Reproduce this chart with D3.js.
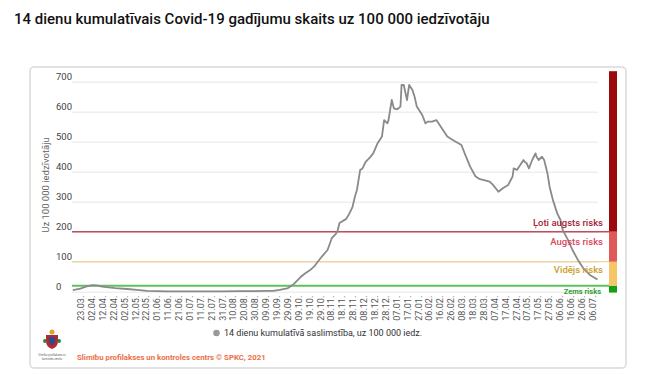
<!DOCTYPE html>
<html><head><meta charset="utf-8">
<script src="https://cdn.jsdelivr.net/npm/d3@7"></script>
<style>
html,body{margin:0;padding:0;background:#fff;}
svg{display:block;font-family:Roboto, "Noto Sans", sans-serif;}
</style></head>
<body><svg id="chart" width="659" height="392"></svg>
<script>
// ---- data ----
const dates = ["2020-03-16","2020-03-23","2020-03-28","2020-04-03","2020-04-07","2020-04-12","2020-04-16","2020-04-24","2020-05-05","2020-05-14","2020-05-23","2020-06-01","2020-06-11","2020-06-22","2020-07-11","2020-07-29","2020-08-17","2020-08-30","2020-09-09","2020-09-16","2020-09-22","2020-09-29","2020-10-04","2020-10-11","2020-10-15","2020-10-20","2020-10-24","2020-10-27","2020-10-31","2020-11-05","2020-11-09","2020-11-12","2020-11-14","2020-11-16","2020-11-19","2020-11-22","2020-11-25","2020-11-28","2020-11-30","2020-12-02","2020-12-05","2020-12-07","2020-12-10","2020-12-14","2020-12-17","2020-12-21","2020-12-25","2020-12-27","2020-12-30","2020-12-31","2021-01-03","2021-01-05","2021-01-08","2021-01-11","2021-01-12","2021-01-14","2021-01-17","2021-01-19","2021-01-22","2021-01-24","2021-01-26","2021-01-31","2021-02-03","2021-02-05","2021-02-09","2021-02-13","2021-02-16","2021-02-23","2021-02-28","2021-03-08","2021-03-11","2021-03-16","2021-03-21","2021-03-25","2021-04-03","2021-04-06","2021-04-11","2021-04-15","2021-04-20","2021-04-24","2021-04-25","2021-04-28","2021-05-01","2021-05-04","2021-05-05","2021-05-07","2021-05-09","2021-05-12","2021-05-15","2021-05-16","2021-05-18","2021-05-21","2021-05-23","2021-05-26","2021-05-28","2021-05-31","2021-06-04","2021-06-07","2021-06-09","2021-06-14","2021-06-18","2021-06-23","2021-06-28","2021-07-04","2021-07-11"];
const values = [5,10,17,22,21,17,15,12,9,6,3,2,1,1,1,1,2,2,3,3,6,11,22,48,60,72,85,100,118,139,179,190,200,229,236,242,260,283,315,339,406,410,433,448,461,495,517,572,561,572,639,611,608,617,689,689,639,689,672,650,617,589,561,567,567,572,556,517,506,489,461,417,384,375,367,356,333,345,356,384,411,406,422,439,433,428,411,439,461,450,439,450,439,395,350,306,261,239,206,172,139,106,78,56,41];
const xTickDates = ["2020-03-23","2020-04-02","2020-04-12","2020-04-22","2020-05-02","2020-05-12","2020-05-22","2020-06-01","2020-06-11","2020-06-21","2020-07-01","2020-07-11","2020-07-21","2020-07-31","2020-08-10","2020-08-20","2020-08-30","2020-09-09","2020-09-19","2020-09-29","2020-10-09","2020-10-19","2020-10-29","2020-11-08","2020-11-18","2020-11-28","2020-12-08","2020-12-18","2020-12-28","2021-01-07","2021-01-17","2021-01-27","2021-02-06","2021-02-16","2021-02-26","2021-03-08","2021-03-18","2021-03-28","2021-04-07","2021-04-17","2021-04-27","2021-05-07","2021-05-17","2021-05-27","2021-06-06","2021-06-16","2021-06-26","2021-07-06"];
const yTicks = [0,100,200,300,400,500,600,700];
const riskThresholds = [20,100,200];
const riskLabels = ["Zems risks","Vidējs risks","Augsts risks","Ļoti augsts risks"];
const title = "14 dienu kumulatīvais Covid-19 gadījumu skaits uz 100 000 iedzīvotāju";
const yTitle = "Uz 100 000 iedzīvotāju";
const legendLabel = "14 dienu kumulatīvā saslimstība, uz 100 000 iedz.";
const credit = "Slimību profilakses un kontroles centrs © SPKC, 2021";

// ---- drawing ----
const parse = d3.utcParse("%Y-%m-%d");
const fmt = d3.utcFormat("%d.%m.");
const data = dates.map((d,i)=>({date:parse(d), v:values[i]}));
const svg = d3.select("#chart");

const plotL = 72, plotR = 598;
const x = d3.scaleUtc().domain([parse(dates[0]), parse(dates[dates.length-1])]).range([72.8, 597.5]);
const y = d3.scaleLinear().domain([0,700]).range([291.7, 81.7]);
const yMax = 735;

// title
svg.append("text").attr("x",14).attr("y",24).attr("font-size",15).attr("fill","#111")
  .attr("font-weight",500).text(title);

// card
svg.append("rect").attr("x",30).attr("y",67).attr("width",596).attr("height",301)
  .attr("rx",4).attr("fill","#fff").attr("stroke","#e2e2e2").attr("stroke-width",2);

// gridlines + y labels via axis
const gy = svg.append("g").attr("transform",`translate(${plotL},0)`)
  .call(d3.axisLeft(y).tickValues(yTicks).tickSize(-(plotR-plotL)).tickFormat(d3.format("d")));
gy.select(".domain").remove();
gy.selectAll(".tick line").attr("stroke","#e6e6e6");
gy.selectAll(".tick text").attr("text-anchor","start").attr("x",-16).attr("dy",-2.5)
  .attr("font-size",9.5).attr("fill","#444").attr("font-family","Roboto, sans-serif");

// y title
svg.append("text").attr("transform",`translate(49,185) rotate(-90)`).attr("text-anchor","middle")
  .attr("font-size",9.5).attr("fill","#666").text(yTitle);

// x axis labels
const gx = svg.append("g").attr("transform",`translate(0,${y(0)})`)
  .call(d3.axisBottom(x).tickValues(xTickDates.map(parse)).tickFormat(fmt).tickSize(0));
gx.select(".domain").remove();
gx.selectAll(".tick text").attr("transform","rotate(-90)").attr("text-anchor","end")
  .attr("x",-4).attr("y",0).attr("dy","0.35em").attr("font-size",9).attr("fill","#555")
  .attr("font-family","Roboto, sans-serif");

// colored risk bar
const bandColors = ["#14a014","#f6c565","#e05858","#9c0a0e"];
const bounds = [-3].concat(riskThresholds).concat([yMax]);
svg.append("g").selectAll("rect").data(bandColors).join("rect")
  .attr("x",609).attr("width",8)
  .attr("y",(c,i)=>y(bounds[i+1])).attr("height",(c,i)=>y(bounds[i])-y(bounds[i+1]))
  .attr("fill",c=>c);

// threshold lines
const lineColors = ["#5cc25c","#f2d59c","#c24c5e"];
const lineWidths = [2,1.3,1.5];
svg.append("g").selectAll("line").data(riskThresholds).join("line")
  .attr("x1",plotL).attr("x2",609).attr("y1",d=>y(d)).attr("y2",d=>y(d))
  .attr("stroke",(d,i)=>lineColors[i]).attr("stroke-width",(d,i)=>lineWidths[i]);

// data line
svg.append("path").datum(data)
  .attr("d",d3.line().x(d=>x(d.date)).y(d=>y(d.v)))
  .attr("fill","none").attr("stroke","#8a8a8a").attr("stroke-width",1.8).attr("stroke-linejoin","round");

// risk labels
const labColors = ["#2e9d2e","#c9a02e","#d9475a","#a3233a"];
const labY = [294, 272.5, 245, 226];
const labSize = [7.5,9.5,9.5,9.5];
svg.append("g").selectAll("text").data(riskLabels).join("text")
  .attr("x",(d,i)=> i===0?601:603).attr("y",(d,i)=>labY[i]).attr("text-anchor","end")
  .attr("font-size",(d,i)=>labSize[i]).attr("font-weight",(d,i)=>i===0?700:500)
  .attr("fill",(d,i)=>labColors[i]).text(d=>d);

// legend
svg.append("circle").attr("cx",216.5).attr("cy",333).attr("r",3.3).attr("fill","#999");
svg.append("text").attr("x",224).attr("y",336.3).attr("font-size",9).attr("fill","#333").text(legendLabel);

// logo (simplified)
const logo = svg.append("g");
logo.append("path").attr("d","M46,335 h12 v6 q0,6 -6,8 q-6,-2 -6,-8 z").attr("fill","#b8262e");
logo.append("path").attr("d","M49,337 h6 v4 q0,3 -3,4 q-3,-1 -3,-4 z").attr("fill","#2b4d8f");
logo.append("circle").attr("cx",52).attr("cy",332).attr("r",2.5).attr("fill","#d8a630");
logo.append("circle").attr("cx",45).attr("cy",341).attr("r",2).attr("fill","#3a7d3a");
logo.append("circle").attr("cx",59).attr("cy",341).attr("r",2).attr("fill","#3a7d3a");
logo.append("text").attr("x",52).attr("y",356).attr("text-anchor","middle").attr("font-size",2.8).attr("fill","#666").text("Slimību profilakses un");
logo.append("text").attr("x",52).attr("y",359.5).attr("text-anchor","middle").attr("font-size",2.8).attr("fill","#666").text("kontroles centrs");

// credit
svg.append("text").attr("x",77).attr("y",359.5).attr("font-size",7.8).attr("font-weight",700)
  .attr("fill","#ec7045").text(credit);
</script></body></html>
